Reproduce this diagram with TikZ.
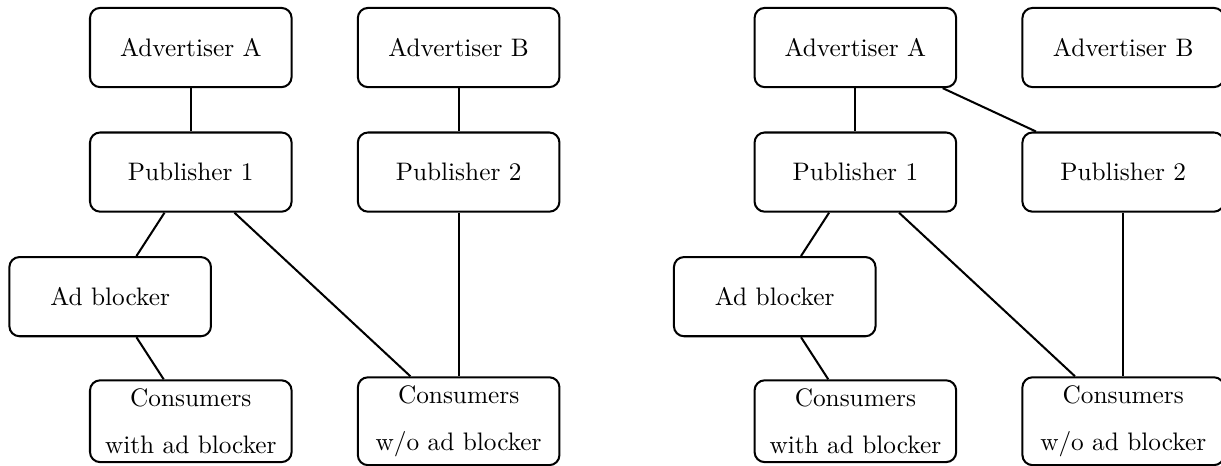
\documentclass[tikz,border=0pt]{standalone}
\usepackage{tikz}

\begin{document}
\begin{tikzpicture}[box/.style={rectangle,draw,thick,rounded corners,minimum width=2.8cm,minimum height=1.1cm,align=center}]
	\useasboundingbox (-2.65,0.66) rectangle (14.308,-5.812);
	% without ad blocker link
	\node[box] (AdvertiserA) at (0,0) {Advertiser A};
	\node[box] (AdvertiserB) at (3.72,0) {Advertiser B};
	\node[box] (Publisher1) at (0,-1.73) {Publisher 1};
	\node[box] (Publisher2) at (3.72,-1.73) {Publisher 2};
	\node[box] (AdBlocker) at (-1.12,-3.46) {Ad blocker};
	\node[box] (ConsumersWith) at (0,-5.19) {Consumers\\[6.5pt]with ad blocker};
	\node[box] (ConsumersWithout) at (3.72,-5.19) {Consumers\\[6.5pt]w/o ad blocker};
	\draw[thick] (AdvertiserA) -- (Publisher1);
	\draw[thick] (AdvertiserB) -- (Publisher2);
	\draw[thick] (Publisher1) -- (AdBlocker);
	\draw[thick] (AdBlocker) -- (ConsumersWith);
	\draw[thick] (Publisher1) -- (ConsumersWithout);
	\draw[thick] (Publisher2) -- (ConsumersWithout);
	% second case
	\node[box] (RightAdvertiserA) at (9.23,0) {Advertiser A};
	\node[box] (RightAdvertiserB) at (12.95,0) {Advertiser B};
	\node[box] (RightPublisher1) at (9.23,-1.73) {Publisher 1};
	\node[box] (RightPublisher2) at (12.95,-1.73) {Publisher 2};
	\node[box] (RightAdBlocker) at (8.11,-3.46) {Ad blocker};
	\node[box] (RightConsumersWith) at (9.23,-5.19) {Consumers\\[6.5pt]with ad blocker};
	\node[box] (RightConsumersWithout) at (12.95,-5.19) {Consumers\\[6.5pt]w/o ad blocker};
	\draw[thick] (RightAdvertiserA) -- (RightPublisher1);
	\draw[thick] (RightAdvertiserA) -- (RightPublisher2);
	\draw[thick] (RightPublisher1) -- (RightAdBlocker);
	\draw[thick] (RightAdBlocker) -- (RightConsumersWith);
	\draw[thick] (RightPublisher1) -- (RightConsumersWithout);
	\draw[thick] (RightPublisher2) -- (RightConsumersWithout);
\end{tikzpicture}
\end{document}
